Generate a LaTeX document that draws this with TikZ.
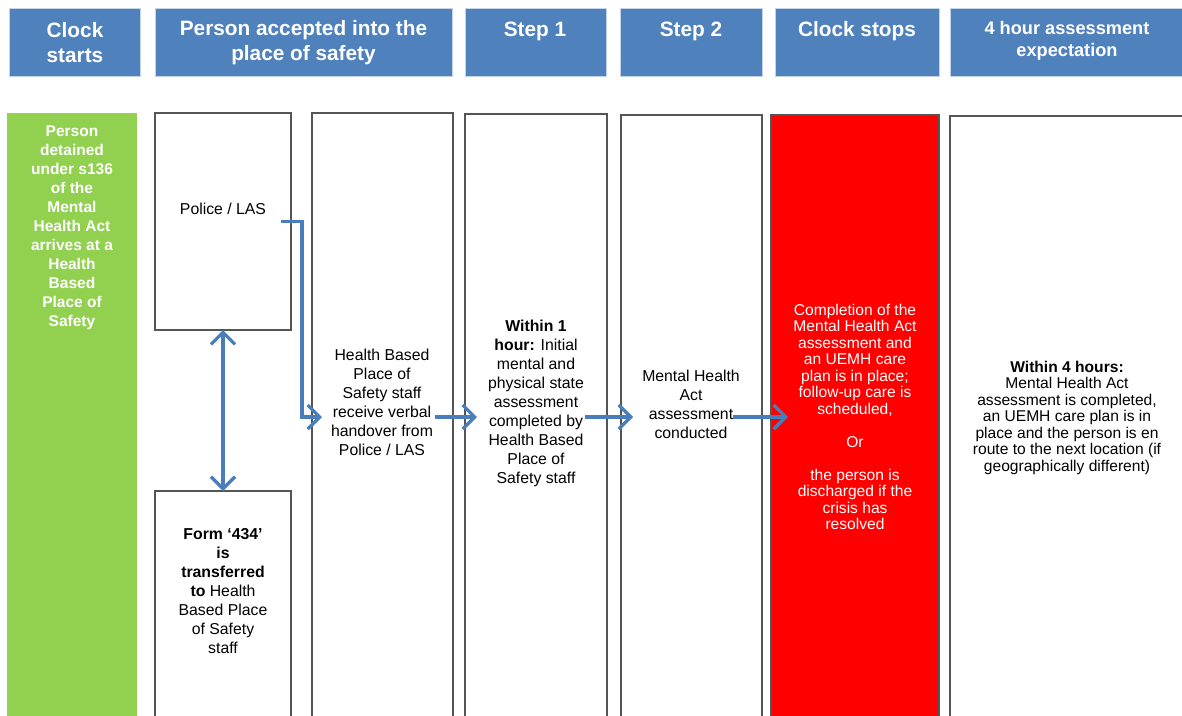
\documentclass[tikz,border=0pt]{standalone}
\usepackage{fontspec}
\setmainfont{Liberation Sans}
\usetikzlibrary{arrows.meta,calc}

\definecolor{hdrblue}{RGB}{79,129,189}
\definecolor{hdredge}{RGB}{196,212,232}
\definecolor{arrowblue}{RGB}{74,126,187}
\definecolor{startgreen}{RGB}{146,208,80}
\definecolor{stopred}{RGB}{255,0,0}
\definecolor{framegray}{RGB}{85,85,85}

\tikzset{
  header/.style={fill=hdrblue, draw=hdredge, line width=0.8pt, anchor=north west,
    inner sep=0pt, outer sep=0pt},
  htext/.style={text=white, font=\bfseries\fontsize{20.8pt}{25pt}\selectfont,
    align=center, inner sep=0pt},
  hsmall/.style={text=white, font=\bfseries\fontsize{18.2pt}{22pt}\selectfont,
    align=center, inner sep=0pt},
  stage/.style={draw=framegray, line width=1.4pt, fill=white, anchor=north west,
    inner sep=0pt, outer sep=0pt},
  body/.style={font=\fontsize{15.8pt}{19pt}\selectfont, align=center, inner sep=0pt},
  tight/.style={font=\fontsize{15.6pt}{16.5pt}\selectfont, align=center, inner sep=0pt},
  barb/.tip={Straight Barb[length=12pt,width=24pt]},
  flow/.style={draw=arrowblue, line width=3.3pt, -barb},
  twoway/.style={draw=arrowblue, line width=3.3pt, barb-barb},
}

\begin{document}
\begin{tikzpicture}[x=1pt,y=-1pt]
\useasboundingbox (0,0) rectangle (1182,715);
\clip (0,0) rectangle (1182,715);
\fill[white] (0,0) rectangle (1182,715);

% column headers
\node[header, minimum width=131pt, minimum height=68pt] (hstart) at (9,8) {};
\node[header, minimum width=297pt, minimum height=68pt] (haccept) at (155,8) {};
\node[header, minimum width=141pt, minimum height=68pt] (hstep1) at (465,8) {};
\node[header, minimum width=142pt, minimum height=68pt] (hstep2) at (620,8) {};
\node[header, minimum width=164pt, minimum height=68pt] (hstop) at (775,8) {};
\node[header, minimum width=240pt, minimum height=68pt] (hexpect) at (950,8) {};

\node[htext] (tstart) at (75,42.5) {Clock\\starts};
\node[htext] (taccept) at (303.5,42.5) {Person accepted into the\\place of safety};
\node[htext] (tstep1) at (535,31) {Step 1};
\node[htext] (tstep2) at (691,31) {Step 2};
\node[htext] (tstop) at (857,31) {Clock stops};
\node[hsmall] (texpect) at (1067,40.5) {4 hour assessment\\expectation};

% stage boxes
\node[anchor=north west, fill=startgreen, inner sep=0pt, outer sep=0pt,
  minimum width=130pt, minimum height=620pt] (start) at (7,113) {};
\node[stage, minimum width=136pt, minimum height=217pt] (police) at (155,113) {};
\node[stage, minimum width=136pt, minimum height=240pt] (form) at (155,491) {};
\node[stage, minimum width=141pt, minimum height=608pt] (hbpos) at (312,113) {};
\node[stage, minimum width=142pt, minimum height=606pt] (step1) at (465,114) {};
\node[stage, minimum width=141pt, minimum height=604pt] (step2) at (621,115) {};
\node[stage, fill=stopred, minimum width=168pt, minimum height=604pt] (stop) at (771,115) {};
\node[stage, minimum width=250pt, minimum height=602pt] (expect) at (950,116) {};

% stage texts
\node[body, text=white, font=\bfseries\fontsize{15.5pt}{19pt}\selectfont] (tdetained) at (72,228)
  {Person\\detained\\under s136\\of the\\Mental\\Health Act\\arrives at a\\Health\\Based\\Place of\\Safety};
\node[body] (tpolice) at (223,209) {Police / LAS};
\node[body] (tform) at (223,591.5)
  {\textbf{Form ‘434’}\\\textbf{is}\\\textbf{transferred}\\\textbf{to} Health\\Based Place\\of Safety\\staff};
\node[body] (thbpos) at (382,402.5)
  {Health Based\\Place of\\Safety staff\\receive verbal\\handover from\\Police / LAS};
\node[body] (tstep1b) at (536,403.5)
  {\textbf{Within 1}\\\textbf{hour:} Initial\\mental and\\physical state\\assessment\\completed by\\Health Based\\Place of\\Safety staff};
\node[body] (tstep2b) at (691,404)
  {Mental Health\\Act\\assessment\\conducted};
\node[tight, text=white] (tstopb) at (855,417)
  {Completion of the\\Mental Health Act\\assessment and\\an UEMH care\\plan is in place;\\follow-up care is\\scheduled,\\[16.5pt]Or\\[16.5pt]the person is\\discharged if the\\crisis has\\resolved};
\node[tight] (texpectb) at (1067,417.5)
  {\textbf{Within 4 hours:}\\Mental Health Act\\assessment is completed,\\an UEMH care plan is in\\place and the person is en\\route to the next location (if\\geographically different)};

% connectors
\draw[flow] ([xshift=-10pt]police.east) -| ([xshift=-10pt]hbpos.west)
  -- ([xshift=10pt]hbpos.west);
\draw[twoway] (police.south) -- (form.north);
\draw[flow] ([xshift=-18pt]hbpos.east) -- ($(hbpos.east -| step1.west)+(12,0)$);
\draw[flow] ([xshift=-22pt]step1.east) -- ($(step1.east -| step2.west)+(12,0)$);
\draw[flow] ([xshift=-29pt]step2.east) -- ($(step2.east -| stop.west)+(17,0)$);
\end{tikzpicture}
\end{document}
